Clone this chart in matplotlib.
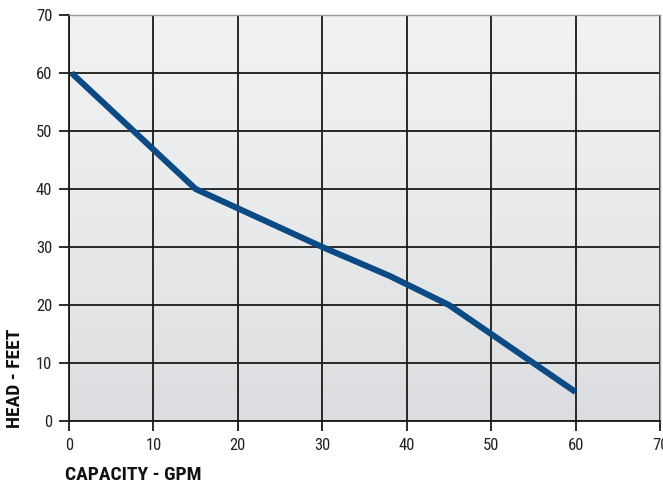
import numpy as np
import matplotlib.pyplot as plt
from matplotlib import font_manager
from matplotlib.colors import LinearSegmentedColormap

# pick a narrow family if one is installed, else plain Liberation Sans
names = {f.name for f in font_manager.fontManager.ttflist}
narrow = "Liberation Sans"
for cand in ["Roboto Condensed", "Open Sans Condensed", "Liberation Sans Narrow",
             "DejaVu Sans Condensed"]:
    if cand in names:
        narrow = cand
        break
plt.rcParams["font.family"] = [narrow, "DejaVu Sans"]

capacity = [0.3, 15, 30, 38, 45, 50, 60]
head = [60, 40, 30, 25, 20, 15, 5]
xticks = [0, 10, 20, 30, 40, 50, 60, 70]
yticks = [0, 10, 20, 30, 40, 50, 60, 70]

fig = plt.figure(figsize=(6.63, 4.86), dpi=100)
ax = fig.add_axes([69/663, 1 - 421/486, 591/663, 406/486])

# grey gradient background
cmap = LinearSegmentedColormap.from_list("bg", ["#dcdde0", "#e9eaeb", "#f1f2f2"])
grad = np.linspace(0, 1, 256).reshape(-1, 1)
ax.imshow(grad, extent=[0, 1, 0, 1], transform=ax.transAxes, origin="lower",
          cmap=cmap, aspect="auto", zorder=0, interpolation="bicubic")

ax.plot(capacity, head, color="#0b4a85", lw=4.4, solid_capstyle="butt",
        solid_joinstyle="miter", zorder=3)

ax.set_xlim(0, 70)
ax.set_ylim(0, 70)
ax.set_xticks(xticks)
ax.set_yticks(yticks)
ax.grid(True, color="#1a1a1a", lw=1.3, zorder=1)
ax.set_axisbelow(True)
ax.tick_params(length=7, width=1.3, color="#1a1a1a", labelsize=12, pad=5,
               labelcolor="#222222")
for s in ["left", "bottom"]:
    ax.spines[s].set_color("#1a1a1a")
    ax.spines[s].set_linewidth(1.3)
for s in ["top", "right"]:
    ax.spines[s].set_color("#999999")
    ax.spines[s].set_linewidth(1.0)

lsize = 14 if narrow != "Liberation Sans" else 11
fig.text(65/663, 1 - 475/486, "CAPACITY - GPM", fontsize=lsize, fontweight="bold",
         ha="left", va="center", color="#111111")
fig.text(15/663, 1 - 428/486, "HEAD - FEET", fontsize=lsize, fontweight="bold",
         rotation=90, ha="center", va="bottom", color="#111111")

fig.savefig("out.png", dpi=100)
